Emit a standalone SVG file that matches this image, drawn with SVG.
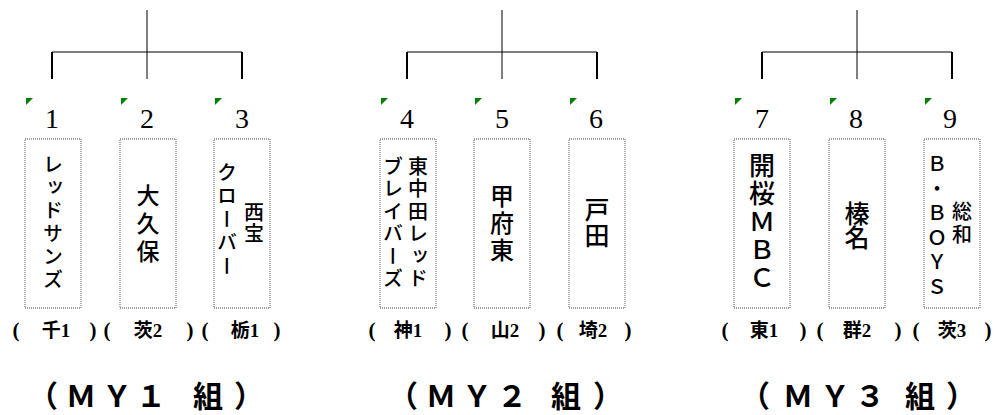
<svg xmlns="http://www.w3.org/2000/svg" width="1000" height="415" viewBox="0 0 1000 415">
<style>
.ln{stroke:#000;stroke-width:1;fill:none}
.sd{stroke:#000;stroke-width:2;fill:none}
.box{fill:#fff;stroke:#808080;stroke-width:1.3;stroke-dasharray:1 1}
.tri{fill:#008000}
.num{font-family:"Liberation Serif",serif;font-size:28px;text-anchor:middle;fill:#000}
.v{writing-mode:vertical-rl;font-family:"Noto Sans CJK JP",sans-serif;font-weight:500;fill:#000}
.lbl{font-family:"Liberation Serif","Noto Sans CJK JP",serif;font-size:19px;font-weight:bold;text-anchor:middle;fill:#000}
.par{font-size:21px}
.grp{font-family:"Noto Sans CJK JP",sans-serif;font-size:30px;font-weight:bold;text-anchor:middle;fill:#000}
</style>
<g id="connectors">
<path class="ln" d="M147 10V79M52 52H242"/>
<path class="sd" d="M52 52V79M242 52V79"/>
<path class="ln" d="M502 10V79M407 52H597"/>
<path class="sd" d="M407 52V79M597 52V79"/>
<path class="ln" d="M857 10V79M762 52H952"/>
<path class="sd" d="M762 52V79M952 52V79"/>
</g>
<g id="node1">
<path class="tri" d="M26 98H33L26 105Z"/>
<text class="num" x="52" y="128">1</text>
<rect class="box" x="25" y="139" width="56" height="169"/>
<text class="v" x="53" y="154" style="font-size:20px;letter-spacing:3px">レッドサンズ</text>
<text class="lbl" y="337"><tspan class="par" x="16">(</tspan><tspan x="56">千1</tspan><tspan class="par" x="93">)</tspan></text>
</g>
<g id="node2">
<path class="tri" d="M121 98H128L121 105Z"/>
<text class="num" x="147" y="128">2</text>
<rect class="box" x="120" y="139" width="56" height="169"/>
<text class="v" x="148" y="184" style="font-size:23px;letter-spacing:5px">大久保</text>
<text class="lbl" y="337"><tspan class="par" x="107">(</tspan><tspan x="148">茨2</tspan><tspan class="par" x="190">)</tspan></text>
</g>
<g id="node3">
<path class="tri" d="M215 98H222L215 105Z"/>
<text class="num" x="242" y="128">3</text>
<rect class="box" x="214" y="139" width="56" height="169"/>
<text class="v" x="254" y="202" style="font-size:20px;letter-spacing:1px">西宝</text>
<text class="v" x="227" y="162" style="font-size:20px;letter-spacing:3.5px">クローバー</text>
<text class="lbl" y="337"><tspan class="par" x="205">(</tspan><tspan x="245">栃1</tspan><tspan class="par" x="277">)</tspan></text>
</g>
<g id="node4">
<path class="tri" d="M381 98H388L381 105Z"/>
<text class="num" x="407" y="128">4</text>
<rect class="box" x="380" y="139" width="56" height="169"/>
<text class="v" x="418" y="156" style="font-size:20px;letter-spacing:2.5px">東中田レッド</text>
<text class="v" x="393" y="156" style="font-size:20px;letter-spacing:2.5px">ブレイバーズ</text>
<text class="lbl" y="337"><tspan class="par" x="372">(</tspan><tspan x="408">神1</tspan><tspan class="par" x="448">)</tspan></text>
</g>
<g id="node5">
<path class="tri" d="M475 98H482L475 105Z"/>
<text class="num" x="502" y="128">5</text>
<rect class="box" x="474" y="139" width="56" height="169"/>
<text class="v" x="502" y="184" style="font-size:24px;letter-spacing:3px">甲府東</text>
<text class="lbl" y="337"><tspan class="par" x="465">(</tspan><tspan x="505">山2</tspan><tspan class="par" x="542">)</tspan></text>
</g>
<g id="node6">
<path class="tri" d="M570 98H577L570 105Z"/>
<text class="num" x="596" y="128">6</text>
<rect class="box" x="569" y="139" width="56" height="169"/>
<text class="v" x="597" y="197" style="font-size:25px;letter-spacing:1px">戸田</text>
<text class="lbl" y="337"><tspan class="par" x="560">(</tspan><tspan x="593">埼2</tspan><tspan class="par" x="628">)</tspan></text>
</g>
<g id="node7">
<path class="tri" d="M735 98H742L735 105Z"/>
<text class="num" x="762" y="128">7</text>
<rect class="box" x="734" y="139" width="56" height="169"/>
<text class="v" x="762" y="152" style="font-size:26px;letter-spacing:2px">開桜ＭＢＣ</text>
<text class="lbl" y="337"><tspan class="par" x="725">(</tspan><tspan x="764">東1</tspan><tspan class="par" x="803">)</tspan></text>
</g>
<g id="node8">
<path class="tri" d="M830 98H837L830 105Z"/>
<text class="num" x="856" y="128">8</text>
<rect class="box" x="829" y="139" width="56" height="169"/>
<text class="v" x="857" y="201" style="font-size:25px;letter-spacing:-1px">榛名</text>
<text class="lbl" y="337"><tspan class="par" x="820">(</tspan><tspan x="857">群2</tspan><tspan class="par" x="898">)</tspan></text>
</g>
<g id="node9">
<path class="tri" d="M925 98H932L925 105Z"/>
<text class="num" x="950" y="128">9</text>
<rect class="box" x="924" y="139" width="56" height="169"/>
<text class="v" x="962" y="201" style="font-size:20px;letter-spacing:3px">総和</text>
<text class="v" x="937" y="154" style="font-size:20px;letter-spacing:4.5px">Ｂ・ＢＯＹＳ</text>
<text class="lbl" y="337"><tspan class="par" x="916">(</tspan><tspan x="952">茨3</tspan><tspan class="par" x="988">)</tspan></text>
</g>
<g id="group-labels">
<text class="grp" x="43 81 117 151 208 249" y="407">（ＭＹ１組）</text>
<text class="grp" x="403 441 477 512 566 608" y="407">（ＭＹ２組）</text>
<text class="grp" x="755 798 835 870 920 961" y="407">（ＭＹ３組）</text>
</g>
</svg>
